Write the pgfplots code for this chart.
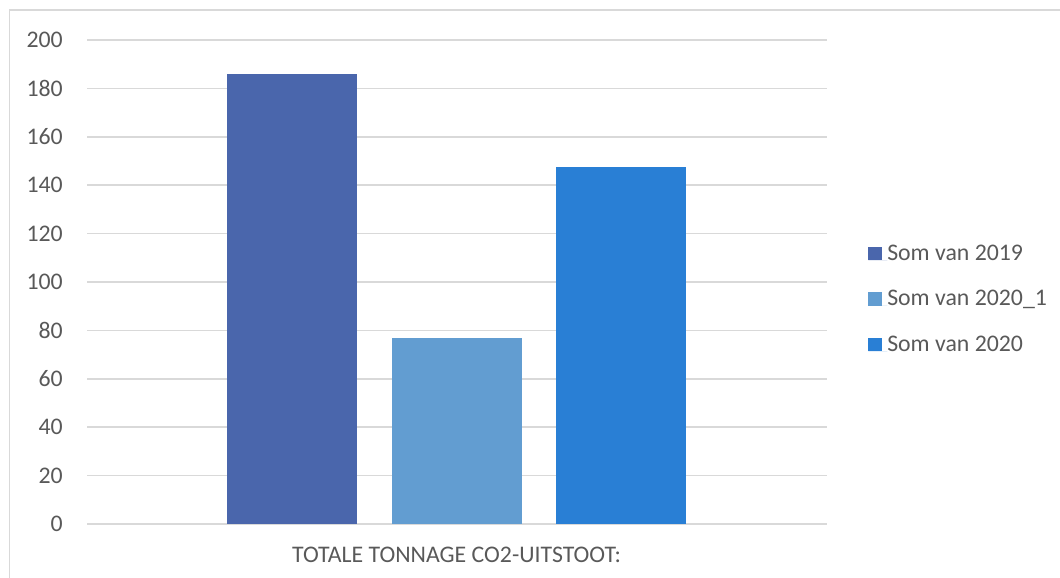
\documentclass[border=0pt]{standalone}
\usepackage{fontspec}
\setmainfont{Carlito}
\usepackage{pgfplots}
\pgfplotsset{compat=1.18}

\definecolor{barA}{HTML}{4A66AC}
\definecolor{barB}{HTML}{629DD1}
\definecolor{barC}{HTML}{297FD5}
\definecolor{gridgray}{HTML}{D9D9D9}
\definecolor{txtgray}{HTML}{595959}

\begin{document}
\begin{tikzpicture}[x=1pt,y=1pt]
  % chart frame (top and left edges)
  \draw[gridgray, line width=1.5pt] (9.5,0) -- (9.5,568) -- (1060,568);

  \begin{axis}[
    at={(87pt,54pt)}, anchor=south west,
    scale only axis,
    width=740pt, height=484pt,
    xmin=-1.25, xmax=3.255,
    ymin=0, ymax=200,
    ytick={0,20,...,200},
    xtick={1},
    xticklabels={TOTALE TONNAGE CO2-UITSTOOT:},
    major tick length=0pt,
    axis line style={draw=none},
    ymajorgrids,
    grid style={gridgray, line width=1.5pt},
    /pgf/number format/assume math mode=true,
    ticklabel style={font=\fontsize{23.8}{28}\selectfont, text=txtgray},
    yticklabel style={inner sep=0pt, xshift=-24pt},
    xticklabel style={inner sep=0pt, anchor=base, yshift=-39pt},
    ybar, bar shift=0pt, bar width=130pt,
    legend style={
      at={(1.0514,0.462)}, anchor=west,
      draw=none, fill=none,
      font=\fontsize{23.8}{28}\selectfont, text=txtgray,
      nodes={inner sep=0pt, text height=16pt, text depth=5pt, anchor=base west},
      row sep=24.5pt,
    },
    legend cell align=left,
    legend image code/.code={%
      \fill[#1, draw=none] (0pt,0pt) rectangle (13.5pt,13.5pt);
      \path (0pt,0pt) -- (19pt,0pt);},
  ]
    \addplot[fill=barA, draw=none] coordinates {(0,186)};
    \addplot[fill=barB, draw=none] coordinates {(1,76.7)};
    \addplot[fill=barC, draw=none] coordinates {(2,147.5)};
    \legend{Som van 2019, Som van 2020\_1, Som van 2020}
  \end{axis}

  \pgfresetboundingbox
  \path (0,0) rectangle (1060,578);
\end{tikzpicture}
\end{document}
